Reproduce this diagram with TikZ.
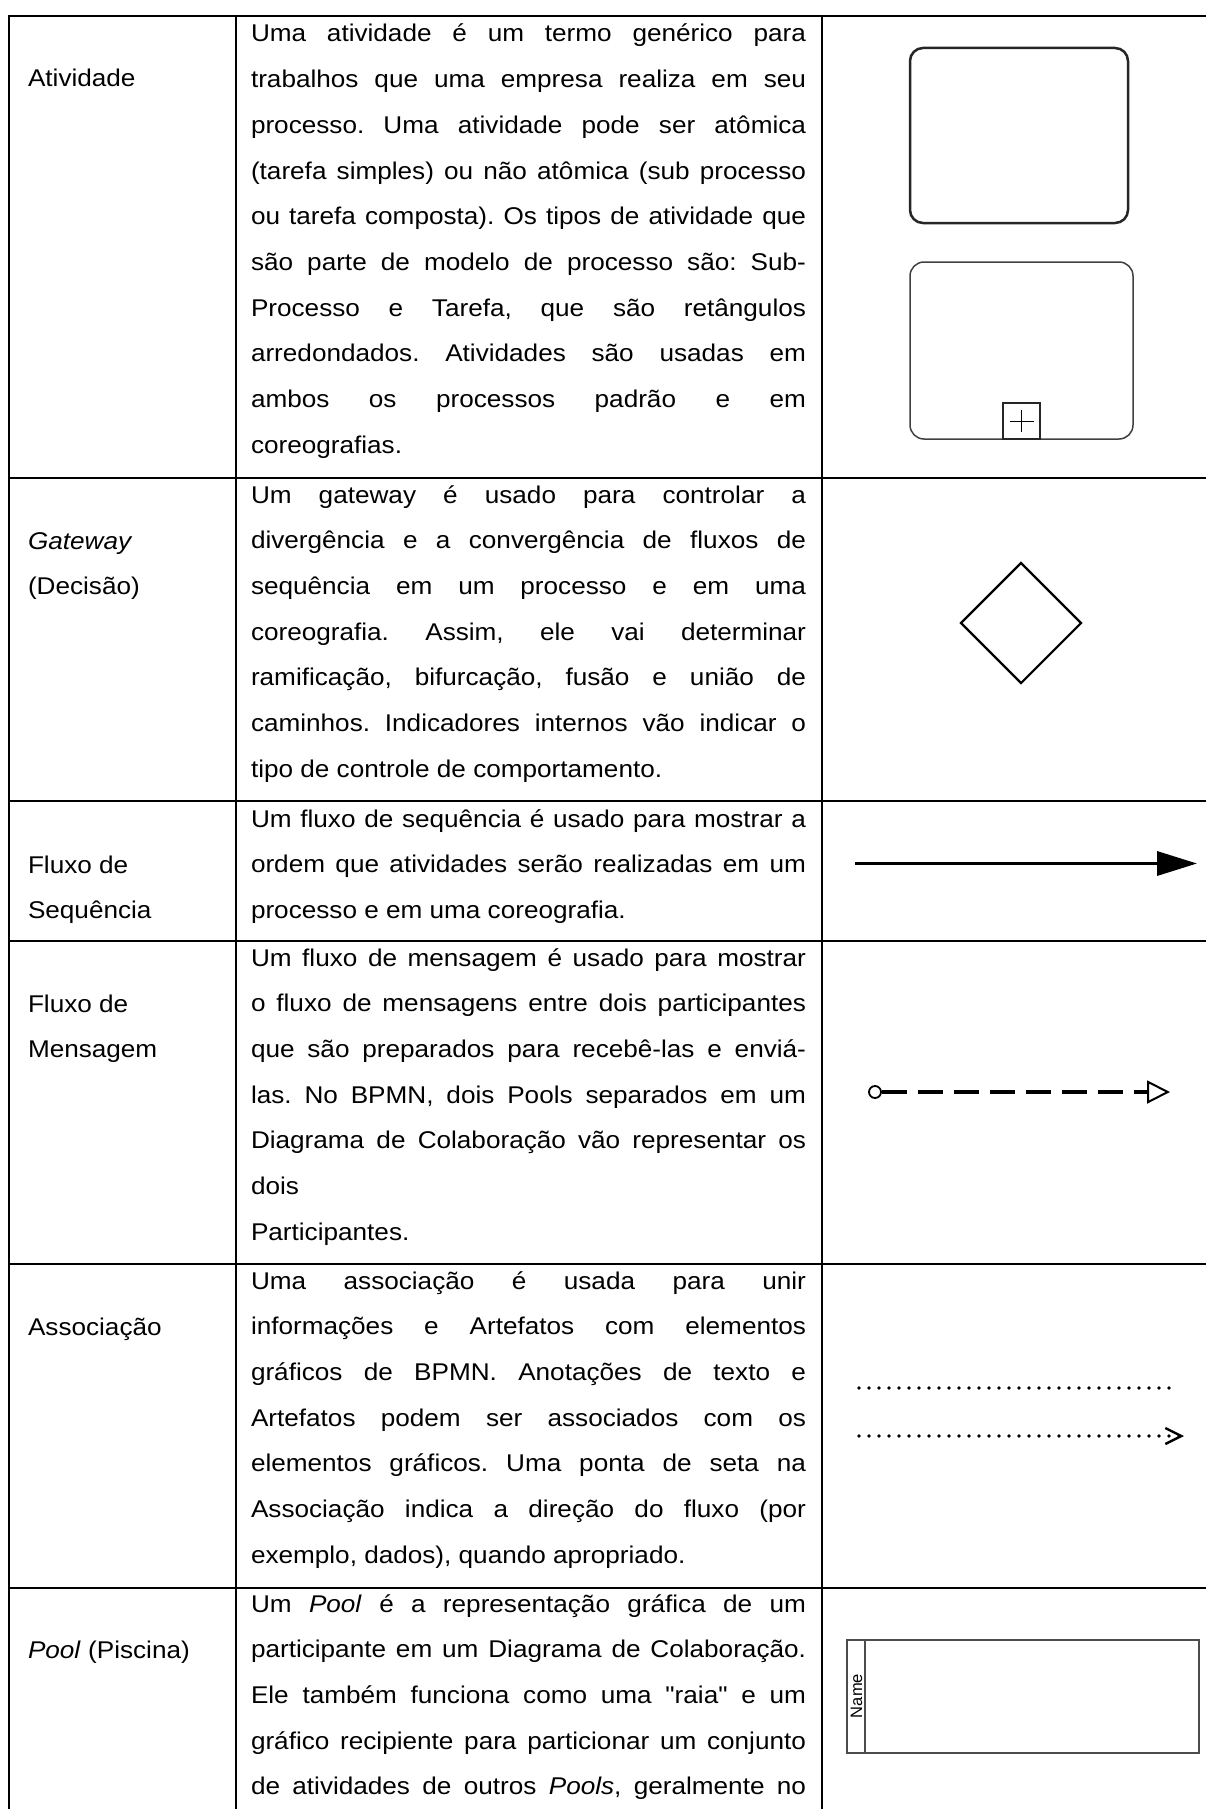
\documentclass[tikz,border=0pt]{standalone}
\usepackage{fontspec}
\setmainfont{Liberation Sans}[FakeStretch=1.08]
% same face without the TeX input mapping, for straight double quotes
\newfontfamily\plainq{Liberation Sans}[FakeStretch=1.08]
\newfontfamily\namefont{Liberation Sans}
\usetikzlibrary{shapes.geometric,arrows.meta}

% one justified line of the description column
\newcommand{\jl}[1]{\makebox[555pt][s]{#1}}
\newcommand{\descfont}{\fontsize{24.2}{45.7}\selectfont}
\newcommand{\sq}{{\plainq "}}

\begin{document}
\frenchspacing
\begin{tikzpicture}[x=1pt,y=-1pt,
  rule/.style={line width=2.2pt},
  cell/.style={anchor=base west, inner sep=0pt, outer sep=0pt, font=\descfont},
  symline/.style={line width=1.5pt, draw=black!75},
  dotline/.style={line width=3.8pt, line cap=round, dash pattern=on 0pt off 10pt},
]
\useasboundingbox (0,0) rectangle (1206,1809);

% ---- table rules ----
\draw[rule] (9,16) -- (9,1809);
\draw[rule] (236,16) -- (236,1809);
\draw[rule] (822,16) -- (822,1809);
\foreach \yy in {16,478,801,941,1264,1588}
  \draw[rule] (8,\yy) -- (1206,\yy);

% ---- first column: element names ----
\node[cell] (n1) at (28,87) {Atividade};
\node[cell] (n2) at (28,549) {\parbox[t]{200pt}{\textit{Gateway}\\(Decisão)}};
\node[cell] (n3) at (28,873) {\parbox[t]{200pt}{Fluxo de\\Sequência}};
\node[cell] (n4) at (28,1012) {\parbox[t]{200pt}{Fluxo de\\Mensagem}};
\node[cell] (n5) at (28,1335) {Associação};
\node[cell] (n6) at (28,1658) {\textit{Pool} (Piscina)};

% ---- second column: descriptions ----
\node[cell] (d1) at (251,42) {\parbox[t]{555pt}{\descfont\frenchspacing
\jl{Uma atividade é um termo genérico para}\\
\jl{trabalhos que uma empresa realiza em seu}\\
\jl{processo. Uma atividade pode ser atômica}\\
\jl{(tarefa simples) ou não atômica (sub processo}\\
\jl{ou tarefa composta). Os tipos de atividade que}\\
\jl{são parte de modelo de processo são: Sub-}\\
\jl{Processo e Tarefa, que são retângulos}\\
\jl{arredondados. Atividades são usadas em}\\
\jl{ambos os processos padrão e em}\\
coreografias.}};

\node[cell] (d2) at (251,503) {\parbox[t]{555pt}{\descfont\frenchspacing
\jl{Um gateway é usado para controlar a}\\
\jl{divergência e a convergência de fluxos de}\\
\jl{sequência em um processo e em uma}\\
\jl{coreografia. Assim, ele vai determinar}\\
\jl{ramificação, bifurcação, fusão e união de}\\
\jl{caminhos. Indicadores internos vão indicar o}\\
tipo de controle de comportamento.}};

\node[cell] (d3) at (251,827) {\parbox[t]{555pt}{\descfont\frenchspacing
\jl{Um fluxo de sequência é usado para mostrar a}\\
\jl{ordem que atividades serão realizadas em um}\\
processo e em uma coreografia.}};

\node[cell] (d4) at (251,966) {\parbox[t]{555pt}{\descfont\frenchspacing
\jl{Um fluxo de mensagem é usado para mostrar}\\
\jl{o fluxo de mensagens entre dois participantes}\\
\jl{que são preparados para recebê-las e enviá-}\\
\jl{las. No BPMN, dois Pools separados em um}\\
\jl{Diagrama de Colaboração vão representar os}\\
dois\\
Participantes.}};

\node[cell] (d5) at (251,1289) {\parbox[t]{555pt}{\descfont\frenchspacing
\jl{Uma associação é usada para unir}\\
\jl{informações e Artefatos com elementos}\\
\jl{gráficos de BPMN. Anotações de texto e}\\
\jl{Artefatos podem ser associados com os}\\
\jl{elementos gráficos. Uma ponta de seta na}\\
\jl{Associação indica a direção do fluxo (por}\\
exemplo, dados), quando apropriado.}};

\node[cell] (d6) at (251,1612) {\parbox[t]{555pt}{\descfont\frenchspacing
\jl{Um \textit{Pool} é a representação gráfica de um}\\
\jl{participante em um Diagrama de Colaboração.}\\
\jl{Ele também funciona como uma \sq raia\sq{} e um}\\
\jl{gráfico recipiente para particionar um conjunto}\\
\jl{de atividades de outros \textit{Pools}, geralmente no}}};

% ---- third column: notation ----
% task
\node[draw=black!85, line width=2.5pt, rounded corners=13pt,
      minimum width=218pt, minimum height=175pt, inner sep=0pt] (task) at (1019,135.5) {};
% collapsed sub-process with its marker
\node[symline, rounded corners=14pt,
      minimum width=223pt, minimum height=177pt, inner sep=0pt] (sub) at (1021.5,350.5) {};
\node[draw=black!85, line width=1.3pt, minimum width=37pt, minimum height=36pt,
      inner sep=0pt, anchor=south] (plus) at (sub.south) {};
\draw[line width=1.2pt] ([xshift=-12pt]plus.center) -- ([xshift=12pt]plus.center);
\draw[line width=1.2pt] ([yshift=-11pt]plus.center) -- ([yshift=11pt]plus.center);

% gateway
\node[draw, diamond, line width=2.2pt, minimum width=121pt, minimum height=121pt,
      inner sep=0pt] (gw) at (1021,623) {};

% sequence flow
\coordinate (sqa) at (855,863.5);
\coordinate (sqb) at (1197,863.5);
\draw[line width=3.5pt, -{Triangle[length=40pt,width=24pt]}] (sqa) -- (sqb);

% message flow
\node[circle, draw, line width=1.8pt, minimum size=12pt, inner sep=0pt] (mfa) at (875,1092) {};
\coordinate (mfb) at (1170,1092);
\draw[line width=3.2pt, dash pattern=on 25pt off 11pt,
      -{Triangle[open,length=23pt,width=23pt,line width=2pt]}] (mfa) -- (mfb);

% associations
\coordinate (asa) at (859,1388);
\coordinate (asb) at (1179,1388);
\coordinate (asc) at (859,1436);
\coordinate (asd) at (1184,1436);
\draw[dotline] (asa) -- (asb);
\draw[dotline, -{Straight Barb[length=16pt,width=16pt,line width=2.4pt]}] (asc) -- (asd);

% pool
\node[symline, draw=black!70, line width=1.8pt, minimum width=352pt, minimum height=113pt, inner sep=0pt] (pool) at (1023,1696.5) {};
\draw[symline, draw=black!70, line width=1.8pt] ([xshift=19pt]pool.north west) -- ([xshift=19pt]pool.south west);
\node[rotate=90, inner sep=0pt, font=\namefont\fontsize{16.5}{16.5}\selectfont] (poolname) at (856.5,1696) {Name};
\end{tikzpicture}
\end{document}
